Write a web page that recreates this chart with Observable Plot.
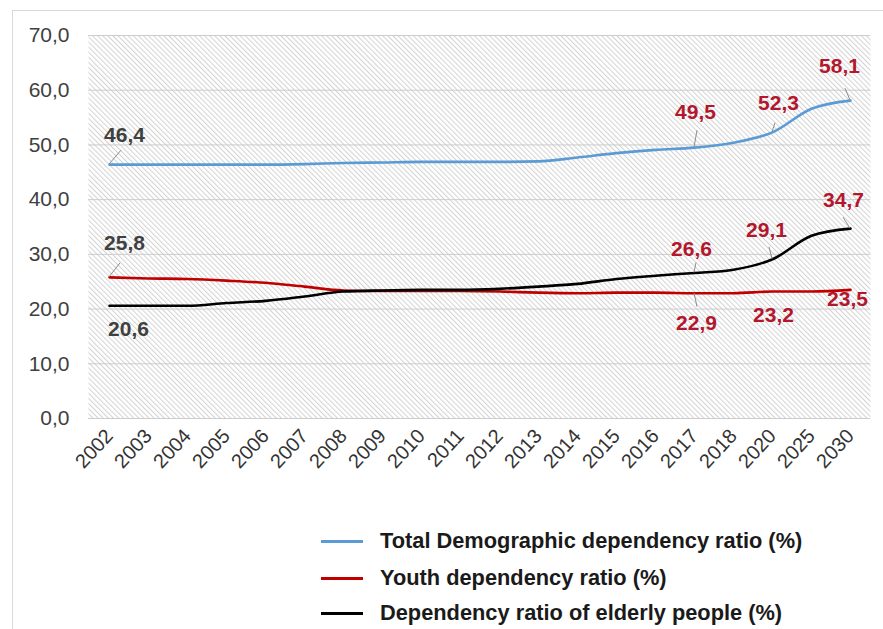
<!DOCTYPE html>
<html>
<head>
<meta charset="utf-8">
<script src="https://cdn.jsdelivr.net/npm/d3@7"></script>
<script src="https://cdn.jsdelivr.net/npm/@observablehq/plot@0.6"></script>
<style>
  body { margin: 0; background: #fff; font-family: "Liberation Sans", Arial, sans-serif; }
  #wrap { position: relative; width: 883px; height: 629px; overflow: hidden; background: #fff; }
  #frame { position: absolute; left: 12px; top: 10px; right: -2px; bottom: -2px; border-top: 1px solid #d9d9d9; border-left: 1px solid #d9d9d9; }
  #chart { position: absolute; left: 0; top: 0; }
  #legend { position: absolute; left: 0; top: 500px; width: 883px; height: 129px; }
  .row { position: absolute; left: 321px; display: flex; align-items: center; height: 30px; }
  .sw { width: 42px; height: 3px; margin-right: 17px; }
  .lab { font-weight: bold; font-size: 21.8px; color: #1a1a1a; white-space: nowrap; }
</style>
</head>
<body>
<div id="wrap">
  <div id="frame"></div>
  <div id="chart"></div>
  <div id="legend"></div>
</div>
<script>
// ---- data ----
const years = ["2002","2003","2004","2005","2006","2007","2008","2009","2010","2011","2012","2013","2014","2015","2016","2017","2018","2020","2025","2030"];
const totalRatio   = [46.4,46.4,46.4,46.4,46.4,46.5,46.7,46.8,46.9,46.9,46.9,47.0,47.7,48.5,49.1,49.5,50.4,52.3,56.6,58.1];
const youthRatio   = [25.8,25.6,25.5,25.2,24.8,24.1,23.4,23.3,23.3,23.3,23.2,23.0,22.9,23.0,23.0,22.9,22.9,23.2,23.2,23.5];
const elderlyRatio = [20.6,20.6,20.6,21.1,21.5,22.3,23.2,23.4,23.5,23.5,23.7,24.1,24.6,25.5,26.1,26.6,27.2,29.1,33.4,34.7];
const seriesKeys   = ["total","youth","elderly"];
const seriesNames  = ["Total Demographic dependency ratio (%)","Youth dependency ratio (%)","Dependency ratio of elderly people (%)"];
const yTicks       = [0,10,20,30,40,50,60,70];
// labelled points: [series, year]
const labelSeries  = ["total","youth","elderly","total","total","total","elderly","elderly","elderly","youth","youth","youth"];
const labelYears   = ["2002","2002","2002","2017","2020","2030","2017","2020","2030","2017","2020","2030"];

// ---- styles (not data) ----
const seriesColors = {total: "#5b9bd5", youth: "#c00000", elderly: "#000000"};
const labelStyle = {
  "total|2002":   {dx: 15, dy: -29, fill: "#404040", lx: 12, ly: -14},
  "youth|2002":   {dx: 15, dy: -34, fill: "#404040", lx: 11, ly: -14},
  "elderly|2002": {dx: 19, dy: 23,  fill: "#404040"},
  "total|2017":   {dx: 1,  dy: -35, fill: "#b3172d", lx: 3, ly: -17},
  "total|2020":   {dx: 6,  dy: -29, fill: "#b3172d", lx: 3, ly: -9},
  "total|2030":   {dx: -11,dy: -34, fill: "#b3172d", lx: -5, ly: -12},
  "elderly|2017": {dx: -3, dy: -24, fill: "#b3172d", lx: 2, ly: -10},
  "elderly|2020": {dx: -6, dy: -29, fill: "#b3172d", lx: -3, ly: -12},
  "elderly|2030": {dx: -7, dy: -28, fill: "#b3172d", lx: -7, ly: -11},
  "youth|2017":   {dx: 2,  dy: 30,  fill: "#b3172d", lx: 3, ly: 14},
  "youth|2020":   {dx: 1,  dy: 24,  fill: "#b3172d"},
  "youth|2030":   {dx: -3, dy: 9,   fill: "#b3172d"}
};

// ---- build tables ----
const valuesBySeries = {total: totalRatio, youth: youthRatio, elderly: elderlyRatio};
const rows = [];
for (const s of seriesKeys) years.forEach((yr, i) => rows.push({series: s, year: yr, value: valuesBySeries[s][i]}));
const fmt = v => v.toFixed(1).replace(".", ",");
const labels = labelSeries.map((s, i) => {
  const yr = labelYears[i];
  const v = valuesBySeries[s][years.indexOf(yr)];
  return {series: s, year: yr, value: v, text: fmt(v), key: s + "|" + yr};
});

function leaderMark(index, scales) {
  const g = d3.create("svg:g").attr("stroke", "#8c8c8c").attr("stroke-width", 1);
  for (const l of labels) {
    const st = labelStyle[l.key];
    if (st.lx === undefined) continue;
    const x0 = scales.x(l.year), y0 = scales.y(l.value);
    g.append("line").attr("x1", x0).attr("y1", y0).attr("x2", x0 + st.lx).attr("y2", y0 + st.ly);
  }
  return g.node();
}

const textMarks = labels.map(l => {
  const st = labelStyle[l.key];
  return Plot.text([l], {x: "year", y: "value", text: "text", dx: st.dx, dy: st.dy,
    fill: st.fill, fontSize: 21, fontWeight: "bold"});
});

const plot = Plot.plot({
  width: 883,
  height: 500,
  marginLeft: 88,
  marginRight: 13,
  marginTop: 35,
  marginBottom: 82,
  style: {fontFamily: "'Liberation Sans', Arial, sans-serif", background: "transparent", overflow: "visible"},
  x: {type: "point", domain: years, padding: 0.5, label: null},
  y: {domain: [0, 70], label: null},
  marks: [
    Plot.frame({fill: "url(#hatch)", stroke: null}),
    Plot.gridY(yTicks, {stroke: "#cccccc", strokeOpacity: 1, strokeWidth: 1}),
    Plot.axisY(yTicks, {tickSize: 0, tickPadding: 19, fontSize: 21, fill: "#404040", label: null, tickFormat: fmt}),
    Plot.axisX({tickSize: 0, tickRotate: -47, tickPadding: 14, fontSize: 20, fill: "#333333", label: null}),
    ...seriesKeys.map(s => Plot.line(rows.filter(r => r.series === s), {
      x: "year", y: "value", stroke: seriesColors[s], strokeWidth: 2.6, curve: "monotone-x"
    })),
    leaderMark,
    ...textMarks
  ]
});

const ns = "http://www.w3.org/2000/svg";
const defs = document.createElementNS(ns, "defs");
defs.innerHTML = '<pattern id="hatch" width="3.6" height="3.6" patternUnits="userSpaceOnUse" patternTransform="rotate(-45)">' +
  '<rect width="3.6" height="3.6" fill="#ffffff"/><line x1="0.5" y1="0" x2="0.5" y2="3.6" stroke="#d2d2d2" stroke-width="1"/></pattern>';
plot.insertBefore(defs, plot.firstChild);
document.getElementById("chart").appendChild(plot);

// ---- legend ----
const legend = document.getElementById("legend");
const rowTops = [26, 63, 98];
seriesKeys.forEach((s, i) => {
  const row = document.createElement("div");
  row.className = "row";
  row.style.top = rowTops[i] + "px";
  row.innerHTML = '<div class="sw" style="background:' + seriesColors[s] + '"></div><div class="lab">' + seriesNames[i] + '</div>';
  legend.appendChild(row);
});
</script>
</body>
</html>
